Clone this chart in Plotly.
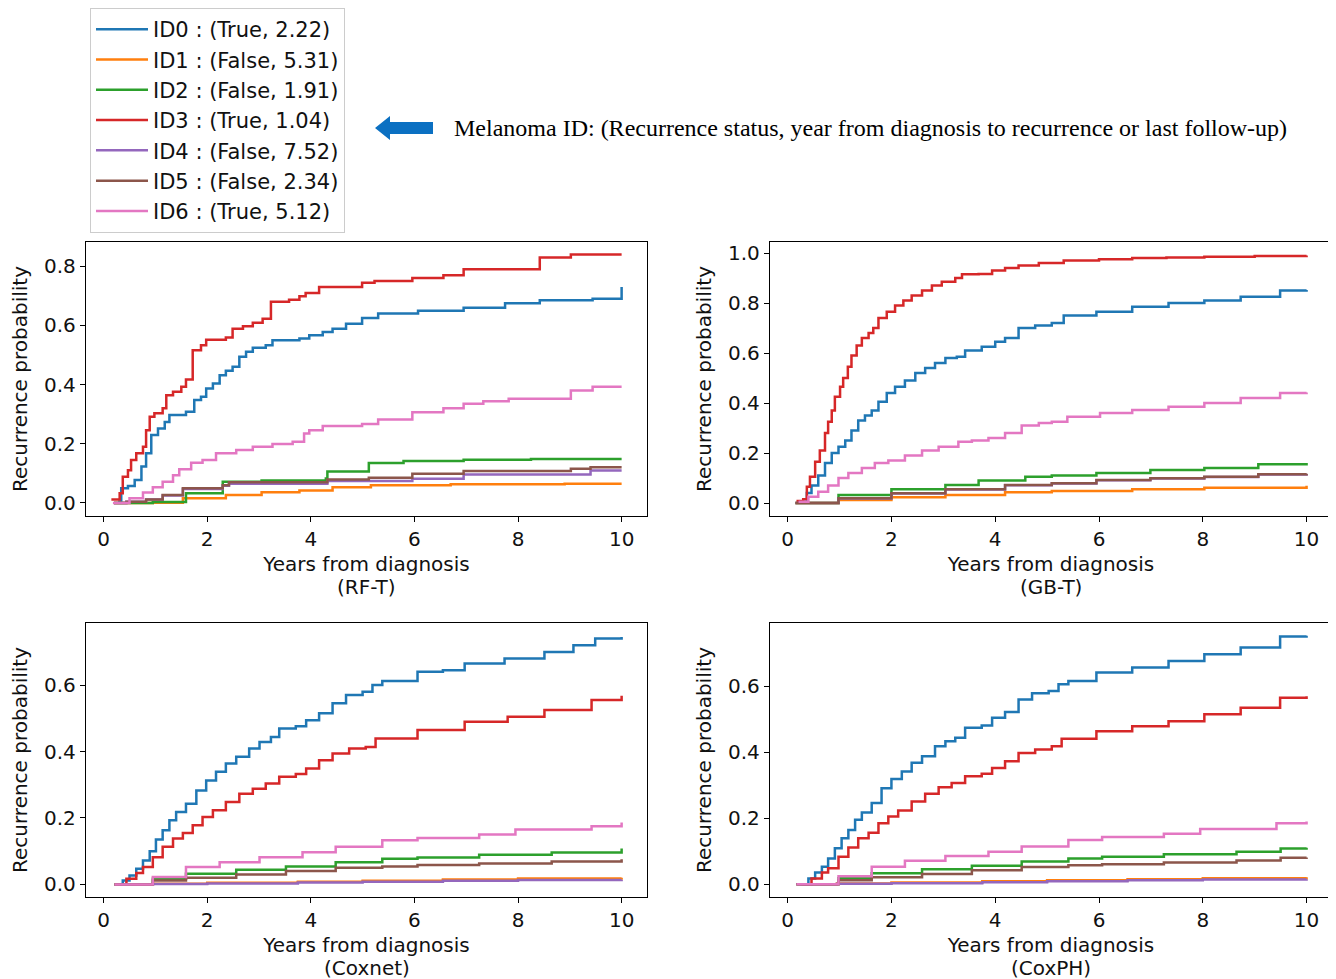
import plotly.graph_objects as go

# ---------------- data ----------------
series_names = ["ID0 : (True, 2.22)", "ID1 : (False, 5.31)", "ID2 : (False, 1.91)",
                "ID3 : (True, 1.04)", "ID4 : (False, 7.52)", "ID5 : (False, 2.34)",
                "ID6 : (True, 5.12)"]
colors = ["#1f77b4", "#ff7f0e", "#2ca02c", "#d62728", "#9467bd", "#8c564b", "#e377c2"]
model_labels = ["RF-T", "GB-T", "Coxnet", "CoxPH"]
x_ticks = [0, 2, 4, 6, 8, 10]

# RF-T
rft_id0_t = [0.28, 0.34, 0.47, 0.60, 0.73, 0.82, 0.92, 1.05, 1.18, 1.27, 1.59, 1.75, 1.88, 1.98, 2.11, 2.24, 2.36, 2.49, 2.62, 2.75, 2.88, 3.13, 3.26, 3.78, 3.97, 4.23, 4.42, 4.68, 4.99, 5.30, 6.07, 6.95, 7.75, 8.42, 9.44, 10.0, 10.0]
rft_id0_y = [0.005, 0.05, 0.057, 0.078, 0.123, 0.168, 0.23, 0.252, 0.274, 0.297, 0.308, 0.348, 0.359, 0.387, 0.404, 0.432, 0.447, 0.46, 0.494, 0.511, 0.525, 0.533, 0.55, 0.556, 0.567, 0.578, 0.589, 0.606, 0.625, 0.64, 0.65, 0.66, 0.675, 0.685, 0.69, 0.70, 0.73]
rft_id1_t = [0.2, 0.95, 1.53, 2.36, 3.05, 3.78, 4.42, 5.16, 6.70, 8.9, 10.0]
rft_id1_y = [0.0, 0.001, 0.016, 0.027, 0.036, 0.042, 0.053, 0.06, 0.063, 0.065, 0.065]
rft_id2_t = [0.2, 0.95, 1.59, 2.30, 3.05, 4.29, 4.32, 5.12, 5.79, 6.95, 8.25, 10.0]
rft_id2_y = [0.0, 0.003, 0.033, 0.072, 0.076, 0.083, 0.106, 0.135, 0.142, 0.146, 0.149, 0.149]
rft_id3_t = [0.15, 0.31, 0.37, 0.47, 0.53, 0.63, 0.76, 0.82, 0.89, 0.98, 1.14, 1.21, 1.34, 1.50, 1.59, 1.72, 1.88, 1.98, 2.36, 2.49, 2.69, 2.88, 3.07, 3.23, 3.58, 3.78, 3.90, 4.16, 4.99, 5.23, 5.96, 6.56, 6.95, 7.82, 8.42, 9.02, 10.0]
rft_id3_y = [0.012, 0.033, 0.089, 0.111, 0.145, 0.168, 0.19, 0.246, 0.291, 0.303, 0.32, 0.364, 0.376, 0.393, 0.417, 0.516, 0.533, 0.552, 0.559, 0.589, 0.597, 0.609, 0.623, 0.68, 0.687, 0.699, 0.71, 0.73, 0.744, 0.75, 0.76, 0.77, 0.79, 0.79, 0.83, 0.84, 0.84]
rft_id4_t = [0.2, 0.44, 0.82, 1.14, 1.53, 2.30, 2.42, 4.32, 5.96, 6.95, 9.40, 10.0]
rft_id4_y = [0.0, 0.004, 0.012, 0.025, 0.047, 0.058, 0.065, 0.074, 0.082, 0.096, 0.11, 0.11]
rft_id5_t = [0.2, 0.44, 0.82, 1.14, 1.53, 2.30, 2.42, 4.32, 5.12, 5.96, 6.95, 9.02, 9.40, 10.0]
rft_id5_y = [0.0, 0.004, 0.012, 0.027, 0.05, 0.06, 0.07, 0.079, 0.085, 0.099, 0.108, 0.116, 0.121, 0.121]
rft_id6_t = [0.18, 0.50, 0.76, 0.95, 1.14, 1.34, 1.46, 1.69, 1.91, 2.17, 2.56, 2.88, 3.26, 3.65, 3.87, 3.97, 4.23, 4.99, 5.30, 5.96, 6.56, 6.95, 7.33, 7.82, 9.02, 9.44, 10.0]
rft_id6_y = [0.0, 0.016, 0.035, 0.053, 0.072, 0.094, 0.114, 0.136, 0.145, 0.168, 0.179, 0.19, 0.199, 0.207, 0.235, 0.246, 0.26, 0.267, 0.282, 0.307, 0.32, 0.335, 0.344, 0.352, 0.38, 0.393, 0.393]

# GB-T
gbt_id0_t = [0.27, 0.37, 0.46, 0.59, 0.72, 0.85, 0.98, 1.11, 1.23, 1.36, 1.49, 1.62, 1.75, 1.91, 2.07, 2.26, 2.46, 2.65, 2.84, 3.04, 3.26, 3.42, 3.74, 4.00, 4.19, 4.45, 4.77, 5.09, 5.32, 5.95, 6.64, 7.34, 8.03, 8.73, 9.49, 10.0]
gbt_id0_y = [0.005, 0.04, 0.07, 0.11, 0.16, 0.20, 0.225, 0.25, 0.29, 0.33, 0.35, 0.37, 0.405, 0.44, 0.465, 0.49, 0.52, 0.54, 0.56, 0.58, 0.585, 0.61, 0.625, 0.645, 0.66, 0.70, 0.71, 0.72, 0.75, 0.765, 0.785, 0.80, 0.81, 0.825, 0.85, 0.852]
gbt_id1_t = [0.15, 0.98, 2.0, 3.04, 4.19, 5.09, 6.64, 8.03, 10.0]
gbt_id1_y = [0.0, 0.012, 0.023, 0.032, 0.043, 0.048, 0.055, 0.061, 0.069]
gbt_id2_t = [0.15, 0.98, 2.0, 3.04, 3.68, 4.58, 5.09, 5.95, 6.99, 8.03, 9.07, 10.0]
gbt_id2_y = [0.0, 0.032, 0.055, 0.072, 0.09, 0.105, 0.11, 0.12, 0.132, 0.14, 0.155, 0.16]
gbt_id3_t = [0.17, 0.30, 0.37, 0.43, 0.53, 0.62, 0.72, 0.78, 0.85, 0.91, 1.01, 1.07, 1.16, 1.23, 1.33, 1.43, 1.56, 1.65, 1.75, 1.91, 2.07, 2.23, 2.39, 2.59, 2.78, 2.97, 3.23, 3.36, 3.68, 3.94, 4.19, 4.45, 4.84, 5.32, 6.0, 6.64, 7.3, 8.03, 9.0, 10.0]
gbt_id3_y = [0.008, 0.015, 0.065, 0.105, 0.165, 0.21, 0.28, 0.325, 0.37, 0.425, 0.465, 0.50, 0.545, 0.59, 0.63, 0.66, 0.68, 0.70, 0.74, 0.765, 0.79, 0.81, 0.83, 0.85, 0.87, 0.885, 0.90, 0.915, 0.916, 0.93, 0.94, 0.95, 0.96, 0.97, 0.975, 0.98, 0.982, 0.985, 0.988, 0.99]
gbt_id4_t = [0.15, 0.98, 2.0, 3.04, 4.19, 5.09, 5.95, 6.99, 8.03, 9.07, 10.0]
gbt_id4_y = [0.0, 0.018, 0.038, 0.054, 0.071, 0.078, 0.091, 0.098, 0.104, 0.114, 0.116]
gbt_id5_t = [0.15, 0.98, 2.0, 3.04, 4.19, 5.09, 5.95, 6.99, 8.03, 9.07, 10.0]
gbt_id5_y = [0.0, 0.019, 0.039, 0.055, 0.072, 0.079, 0.092, 0.099, 0.105, 0.115, 0.117]
gbt_id6_t = [0.21, 0.40, 0.59, 0.78, 0.98, 1.17, 1.43, 1.68, 1.94, 2.26, 2.59, 2.91, 3.29, 3.55, 3.87, 4.19, 4.51, 4.84, 5.09, 5.39, 6.02, 6.64, 7.34, 8.03, 8.73, 9.49, 10.0]
gbt_id6_y = [0.005, 0.025, 0.045, 0.07, 0.10, 0.12, 0.14, 0.16, 0.17, 0.19, 0.21, 0.225, 0.245, 0.25, 0.26, 0.28, 0.31, 0.32, 0.325, 0.345, 0.36, 0.372, 0.385, 0.40, 0.42, 0.44, 0.442]

# Coxnet
cxn_id0_t = [0.24, 0.37, 0.50, 0.63, 0.76, 0.89, 1.01, 1.14, 1.27, 1.40, 1.59, 1.79, 1.98, 2.17, 2.36, 2.56, 2.81, 3.01, 3.23, 3.39, 3.71, 3.91, 4.16, 4.42, 4.68, 5.00, 5.19, 5.38, 6.06, 6.55, 6.97, 7.74, 8.51, 9.07, 9.49, 10.0]
cxn_id0_y = [0.0, 0.012, 0.027, 0.047, 0.072, 0.10, 0.135, 0.163, 0.193, 0.218, 0.243, 0.283, 0.313, 0.339, 0.364, 0.384, 0.409, 0.429, 0.444, 0.469, 0.476, 0.494, 0.515, 0.545, 0.57, 0.58, 0.60, 0.612, 0.64, 0.645, 0.665, 0.68, 0.70, 0.72, 0.74, 0.745]
cxn_id1_t = [0.21, 0.95, 2.0, 3.75, 5.0, 6.55, 8.0, 10.0]
cxn_id1_y = [0.0, 0.002, 0.005, 0.008, 0.011, 0.015, 0.018, 0.02]
cxn_id2_t = [0.21, 0.95, 1.59, 2.56, 3.52, 4.48, 5.38, 6.06, 7.25, 8.65, 10.0]
cxn_id2_y = [0.0, 0.017, 0.032, 0.044, 0.054, 0.067, 0.077, 0.081, 0.089, 0.096, 0.108]
cxn_id3_t = [0.28, 0.44, 0.63, 0.76, 0.95, 1.14, 1.34, 1.53, 1.72, 1.91, 2.11, 2.36, 2.62, 2.88, 3.13, 3.39, 3.71, 3.91, 4.16, 4.42, 4.74, 5.06, 5.25, 6.06, 6.97, 7.80, 8.51, 9.42, 10.0]
cxn_id3_y = [0.0, 0.017, 0.034, 0.052, 0.082, 0.113, 0.138, 0.155, 0.178, 0.203, 0.223, 0.248, 0.273, 0.288, 0.304, 0.324, 0.332, 0.349, 0.374, 0.394, 0.409, 0.414, 0.439, 0.465, 0.49, 0.505, 0.525, 0.555, 0.568]
cxn_id4_t = [0.21, 0.95, 2.0, 3.75, 5.0, 6.55, 8.0, 10.0]
cxn_id4_y = [0.0, 0.001, 0.003, 0.006, 0.008, 0.011, 0.013, 0.014]
cxn_id5_t = [0.21, 0.95, 1.59, 2.56, 3.52, 4.48, 5.38, 6.06, 7.25, 8.65, 10.0]
cxn_id5_y = [0.0, 0.012, 0.02, 0.03, 0.04, 0.05, 0.054, 0.058, 0.063, 0.069, 0.076]
cxn_id6_t = [0.21, 0.95, 1.59, 2.24, 3.01, 3.84, 4.48, 5.38, 6.06, 7.25, 7.95, 9.42, 10.0]
cxn_id6_y = [0.0, 0.022, 0.052, 0.067, 0.082, 0.097, 0.113, 0.133, 0.14, 0.15, 0.165, 0.175, 0.186]

# CoxPH
cph_id0_t = [0.24, 0.40, 0.53, 0.66, 0.78, 0.91, 1.04, 1.17, 1.30, 1.43, 1.62, 1.81, 2.00, 2.20, 2.39, 2.59, 2.84, 3.04, 3.23, 3.42, 3.74, 3.94, 4.19, 4.45, 4.71, 5.03, 5.22, 5.41, 5.95, 6.64, 7.34, 8.03, 8.73, 9.49, 10.0]
cph_id0_y = [0.0, 0.017, 0.035, 0.053, 0.078, 0.109, 0.139, 0.164, 0.195, 0.217, 0.246, 0.291, 0.319, 0.342, 0.368, 0.388, 0.418, 0.433, 0.444, 0.474, 0.481, 0.505, 0.522, 0.56, 0.579, 0.586, 0.606, 0.616, 0.642, 0.657, 0.677, 0.697, 0.718, 0.751, 0.753]
cph_id1_t = [0.17, 0.95, 2.0, 3.75, 5.0, 6.55, 8.0, 10.0]
cph_id1_y = [0.0, 0.002, 0.005, 0.009, 0.012, 0.015, 0.018, 0.021]
cph_id2_t = [0.17, 0.98, 1.62, 2.59, 3.55, 4.51, 5.41, 6.06, 7.25, 8.65, 9.5, 10.0]
cph_id2_y = [0.0, 0.018, 0.033, 0.045, 0.056, 0.069, 0.078, 0.083, 0.091, 0.098, 0.108, 0.11]
cph_id3_t = [0.27, 0.46, 0.66, 0.78, 0.98, 1.17, 1.36, 1.56, 1.75, 1.94, 2.13, 2.39, 2.65, 2.91, 3.16, 3.42, 3.74, 3.94, 4.19, 4.45, 4.77, 5.09, 5.28, 5.95, 6.64, 7.34, 8.03, 8.73, 9.49, 10.0]
cph_id3_y = [0.0, 0.017, 0.035, 0.048, 0.083, 0.111, 0.139, 0.156, 0.185, 0.205, 0.223, 0.251, 0.274, 0.294, 0.307, 0.327, 0.335, 0.352, 0.373, 0.398, 0.408, 0.418, 0.441, 0.464, 0.479, 0.494, 0.515, 0.535, 0.565, 0.57]
cph_id4_t = [0.17, 0.95, 2.0, 3.75, 5.0, 6.55, 8.0, 10.0]
cph_id4_y = [0.0, 0.001, 0.003, 0.006, 0.009, 0.012, 0.014, 0.015]
cph_id5_t = [0.17, 0.98, 1.62, 2.59, 3.55, 4.51, 5.41, 6.06, 7.25, 8.65, 9.5, 10.0]
cph_id5_y = [0.0, 0.012, 0.021, 0.031, 0.042, 0.052, 0.057, 0.06, 0.066, 0.072, 0.08, 0.081]
cph_id6_t = [0.17, 0.98, 1.62, 2.26, 3.04, 3.87, 4.51, 5.41, 6.06, 7.25, 7.95, 9.42, 10.0]
cph_id6_y = [0.0, 0.024, 0.053, 0.071, 0.085, 0.098, 0.114, 0.134, 0.143, 0.153, 0.167, 0.185, 0.19]

panels = [
    [(rft_id0_t, rft_id0_y), (rft_id1_t, rft_id1_y), (rft_id2_t, rft_id2_y), (rft_id3_t, rft_id3_y),
     (rft_id4_t, rft_id4_y), (rft_id5_t, rft_id5_y), (rft_id6_t, rft_id6_y)],
    [(gbt_id0_t, gbt_id0_y), (gbt_id1_t, gbt_id1_y), (gbt_id2_t, gbt_id2_y), (gbt_id3_t, gbt_id3_y),
     (gbt_id4_t, gbt_id4_y), (gbt_id5_t, gbt_id5_y), (gbt_id6_t, gbt_id6_y)],
    [(cxn_id0_t, cxn_id0_y), (cxn_id1_t, cxn_id1_y), (cxn_id2_t, cxn_id2_y), (cxn_id3_t, cxn_id3_y),
     (cxn_id4_t, cxn_id4_y), (cxn_id5_t, cxn_id5_y), (cxn_id6_t, cxn_id6_y)],
    [(cph_id0_t, cph_id0_y), (cph_id1_t, cph_id1_y), (cph_id2_t, cph_id2_y), (cph_id3_t, cph_id3_y),
     (cph_id4_t, cph_id4_y), (cph_id5_t, cph_id5_y), (cph_id6_t, cph_id6_y)],
]

# ---------------- layout ----------------
# The page body has an 8px margin, so the figure is offset by 8px; map reference pixels accordingly.
OFF = 8
W, H = 1336 - OFF, 979 - OFF
def fx(px):
    return (px - OFF) / W
def fy(py):
    return 1 - (py - OFF) / H

x_domains = [[fx(86), fx(647)], [fx(770), fx(1332)], [fx(86), fx(647)], [fx(770), fx(1332)]]
y_domains = [[fy(516), fy(242)], [fy(516), fy(242)], [fy(897), fy(623)], [fy(897), fy(623)]]
y_ranges = [[-0.044, 0.882], [-0.052, 1.044], [-0.038, 0.787], [-0.039, 0.792]]
label_pos = [(366.5, 587), (1051, 587), (366.5, 968), (1051, 968)]

FONT = "DejaVu Sans"
TXT = "#111111"
fig = go.Figure()

for p in range(4):
    xa = "x" if p == 0 else f"x{p+1}"
    ya = "y" if p == 0 else f"y{p+1}"
    for i, (t, v) in enumerate(panels[p]):
        fig.add_trace(go.Scatter(
            x=t, y=v, mode="lines", line=dict(color=colors[i], width=2.5, shape="hv"),
            name=series_names[i], legendgroup=series_names[i], showlegend=(p == 0),
            xaxis=xa, yaxis=ya))

    axis_common = dict(showline=True, linecolor="black", linewidth=1.3, mirror=True,
                       ticks="outside", ticklen=5, tickwidth=1.2, tickcolor="black",
                       showgrid=False, zeroline=False, automargin=False,
                       tickfont=dict(family=FONT, size=20, color=TXT))
    xkey = "xaxis" if p == 0 else f"xaxis{p+1}"
    ykey = "yaxis" if p == 0 else f"yaxis{p+1}"
    fig.update_layout({
        xkey: dict(domain=x_domains[p], anchor=ya, range=[-0.34, 10.49],
                   tickvals=x_ticks, ticktext=[str(v) for v in x_ticks],
                   title=dict(text="Years from diagnosis",
                              font=dict(family=FONT, size=20, color=TXT), standoff=6),
                   **axis_common),
        ykey: dict(domain=y_domains[p], anchor=xa, range=y_ranges[p],
                   dtick=0.2, tick0=0, tickformat=".1f",
                   title=dict(text="Recurrence probability",
                              font=dict(family=FONT, size=20, color=TXT), standoff=11),
                   **axis_common),
    })
    lx, ly = label_pos[p]
    fig.add_annotation(xref="paper", yref="paper", x=fx(lx), y=fy(ly),
                       xanchor="center", yanchor="middle", showarrow=False,
                       text=f"({model_labels[p]})",
                       font=dict(family=FONT, size=20, color=TXT))

# arrow (left pointing block arrow)
ax0, ax_head, ax1 = 375, 390, 433
fig.add_shape(type="path", xref="paper", yref="paper",
              path=(f"M {fx(ax0)},{fy(128)} L {fx(ax_head)},{fy(116)} L {fx(ax_head)},{fy(122)} "
                    f"L {fx(ax1)},{fy(122)} L {fx(ax1)},{fy(134)} L {fx(ax_head)},{fy(134)} "
                    f"L {fx(ax_head)},{fy(140)} Z"),
              fillcolor="#0B70C2", line=dict(width=0))
fig.add_annotation(xref="paper", yref="paper", x=fx(452), y=fy(128),
                   xanchor="left", yanchor="middle", showarrow=False,
                   text="Melanoma ID: (Recurrence status, year from diagnosis to recurrence or last follow-up)",
                   font=dict(family="Liberation Serif", size=24, color="black"))

fig.update_layout(
    width=W, height=H,
    margin=dict(l=0, r=0, t=0, b=0),
    paper_bgcolor="white", plot_bgcolor="white",
    font=dict(family=FONT, color=TXT),
    showlegend=True,
    legend=dict(x=fx(90), y=fy(8), xanchor="left", yanchor="top",
                bordercolor="#cccccc", borderwidth=1, bgcolor="white",
                font=dict(family=FONT, size=21, color=TXT),
                tracegroupgap=0, itemwidth=52),
)

fig.write_html("out.html")
